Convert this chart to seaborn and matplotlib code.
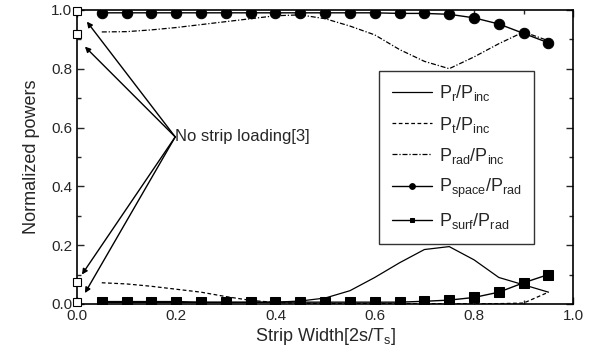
import numpy as np
import pandas as pd
import matplotlib
matplotlib.use("Agg")
import matplotlib.pyplot as plt
from matplotlib.ticker import MultipleLocator
import seaborn as sns

# ---- data ----
x = [0.05, 0.10, 0.15, 0.20, 0.25, 0.30, 0.35, 0.40, 0.45, 0.50,
     0.55, 0.60, 0.65, 0.70, 0.75, 0.80, 0.85, 0.90, 0.95]
p_r = [0.005, 0.005, 0.005, 0.005, 0.005, 0.005, 0.005, 0.006, 0.010, 0.020,
       0.045, 0.090, 0.140, 0.185, 0.195, 0.150, 0.090, 0.065, 0.040]
p_t = [0.072, 0.068, 0.060, 0.050, 0.040, 0.025, 0.012, 0.005, 0.002, 0.001,
       0.001, 0.001, 0.001, 0.001, 0.001, 0.001, 0.001, 0.003, 0.040]
p_rad = [0.925, 0.926, 0.932, 0.940, 0.950, 0.960, 0.970, 0.980, 0.983, 0.970,
         0.945, 0.915, 0.865, 0.825, 0.800, 0.840, 0.885, 0.925, 0.895]
p_space = [0.990, 0.990, 0.990, 0.990, 0.990, 0.990, 0.990, 0.990, 0.990, 0.990,
           0.990, 0.990, 0.988, 0.988, 0.985, 0.973, 0.952, 0.920, 0.888]
p_surf = [0.008, 0.008, 0.008, 0.008, 0.006, 0.006, 0.006, 0.006, 0.006, 0.006,
          0.006, 0.006, 0.006, 0.009, 0.013, 0.022, 0.040, 0.072, 0.100]
ref_x = [0.0, 0.0, 0.0, 0.0]
ref_y = [0.995, 0.918, 0.076, 0.005]
labels = [r"$\mathregular{P_r/P_{inc}}$", r"$\mathregular{P_t/P_{inc}}$",
          r"$\mathregular{P_{rad}/P_{inc}}$", r"$\mathregular{P_{space}/P_{rad}}$",
          r"$\mathregular{P_{surf}/P_{rad}}$"]

sns.set_style("ticks")
plt.rcParams['font.family'] = ['Liberation Sans', 'DejaVu Sans']
plt.rcParams['mathtext.fontset'] = 'custom'
plt.rcParams['mathtext.rm'] = 'Liberation Sans'

fig = plt.figure(figsize=(6.06, 3.53), dpi=100)
ax = fig.add_axes([0.127, 0.139, 0.819, 0.833])

df = pd.DataFrame({"x": x, "r": p_r, "t": p_t, "rad": p_rad,
                   "space": p_space, "surf": p_surf})

sns.lineplot(data=df, x="x", y="r", ax=ax, color="black", lw=0.9, label=labels[0])
sns.lineplot(data=df, x="x", y="t", ax=ax, color="black", lw=0.9,
             label=labels[1]).lines[-1].set_dashes([3, 2])
sns.lineplot(data=df, x="x", y="rad", ax=ax, color="black", lw=0.9,
             label=labels[2]).lines[-1].set_dashes([4, 1.5, 1, 1.5])
sns.lineplot(data=df, x="x", y="space", ax=ax, color="black", lw=1.0,
             marker="o", markersize=7.5, markeredgecolor="black", label=labels[3])
sns.lineplot(data=df, x="x", y="surf", ax=ax, color="black", lw=1.0,
             marker="s", markersize=6.5, markeredgecolor="black", label=labels[4])

ax.plot(ref_x, ref_y, ls="none", marker="s", markersize=6, markerfacecolor="white",
        markeredgecolor="black", markeredgewidth=0.8, clip_on=False, zorder=5)

# annotation
tx, ty = 0.198, 0.568
for hx, hy in [(0.02, 0.96), (0.016, 0.875), (0.01, 0.10), (0.016, 0.037)]:
    ax.annotate("", xy=(hx, hy), xytext=(tx, ty),
                arrowprops=dict(arrowstyle="-|>", color="black", lw=1.0,
                                shrinkA=0, shrinkB=0, mutation_scale=8))
ax.text(tx, ty, "No strip loading[3]", fontsize=12, va="center", ha="left")

ax.set_xlim(0, 1.0)
ax.set_ylim(0, 1.0)
ax.xaxis.set_major_locator(MultipleLocator(0.2))
ax.xaxis.set_minor_locator(MultipleLocator(0.1))
ax.yaxis.set_major_locator(MultipleLocator(0.2))
ax.yaxis.set_minor_locator(MultipleLocator(0.1))
ax.xaxis.set_major_formatter(matplotlib.ticker.FormatStrFormatter('%.1f'))
ax.yaxis.set_major_formatter(matplotlib.ticker.FormatStrFormatter('%.1f'))
ax.tick_params(which="both", direction="in", top=True, right=True, labelsize=11, width=1)
ax.tick_params(which="major", length=5)
ax.tick_params(which="minor", length=3)
for s in ax.spines.values():
    s.set_linewidth(1.2)
    s.set_color("black")

ax.set_xlabel(r"Strip Width[2s/T$\mathregular{_s}$]", fontsize=13, labelpad=2)
ax.set_ylabel("Normalized powers", fontsize=13, labelpad=8)

leg = ax.legend(loc="upper left", bbox_to_anchor=(0.609, 0.793), fontsize=13,
                frameon=True, fancybox=False, edgecolor="black", handlelength=2.2,
                borderpad=0.7, labelspacing=0.62, handletextpad=0.4, markerscale=0.55,
                borderaxespad=0)
leg.get_frame().set_linewidth(1.0)

fig.savefig("out.png", dpi=100)
